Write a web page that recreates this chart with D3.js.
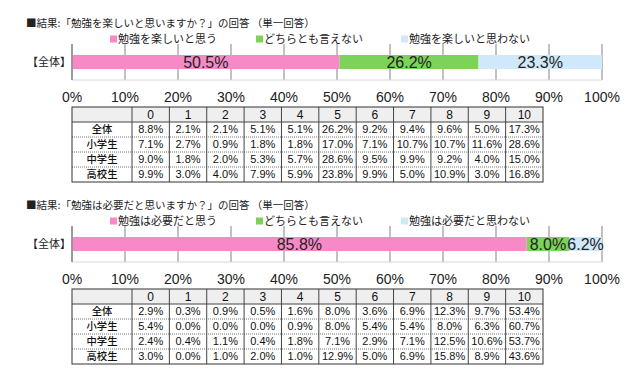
<!DOCTYPE html>
<html>
<head>
<meta charset="utf-8">
<script src="https://cdn.jsdelivr.net/npm/d3@7"></script>
<style>
body{margin:0;background:#fff;}
text{font-family:"Liberation Sans","Noto Sans CJK JP",sans-serif;}
text.jp{font-family:"Noto Sans CJK JP",sans-serif;}
</style>
</head>
<body>
<script>
// data
var titles = ["■結果:「勉強を楽しいと思いますか？」の回答 （単一回答）",
              "■結果:「勉強は必要だと思いますか？」の回答 （単一回答）"];
var legend1 = ["勉強を楽しいと思う","どちらとも言えない","勉強を楽しいと思わない"];
var legend2 = ["勉強は必要だと思う","どちらとも言えない","勉強は必要だと思わない"];
var bar1 = [50.5, 26.2, 23.3];
var bar2 = [85.8, 8.0, 6.2];
var barLabel = "【全体】";
var ticks = [0,10,20,30,40,50,60,70,80,90,100];
var scores = ["0","1","2","3","4","5","6","7","8","9","10"];
var groups = ["全体","小学生","中学生","高校生"];
var table1 = [
  [8.8,2.1,2.1,5.1,5.1,26.2,9.2,9.4,9.6,5.0,17.3],
  [7.1,2.7,0.9,1.8,1.8,17.0,7.1,10.7,10.7,11.6,28.6],
  [9.0,1.8,2.0,5.3,5.7,28.6,9.5,9.9,9.2,4.0,15.0],
  [9.9,3.0,4.0,7.9,5.9,23.8,9.9,5.0,10.9,3.0,16.8]];
var table2 = [
  [2.9,0.3,0.9,0.5,1.6,8.0,3.6,6.9,12.3,9.7,53.4],
  [5.4,0.0,0.0,0.0,0.9,8.0,5.4,5.4,8.0,6.3,60.7],
  [2.4,0.4,1.1,0.4,1.8,7.1,2.9,7.1,12.5,10.6,53.7],
  [3.0,0.0,1.0,2.0,1.0,12.9,5.0,6.9,15.8,8.9,43.6]];

var colors = ["#f78ac6","#7dd35a","#cfe8fa"];
var legendX = [110,256,401];

var svg = d3.select("body").append("svg")
    .attr("width",640).attr("height",391);

var xScale = d3.scaleLinear().domain([0,100]).range([72,602]);
var colScale = d3.scaleBand().domain(scores).range([132,543]);

function drawBlock(top, title, legend, bar, table){
  var g = svg.append("g").attr("transform","translate(0,"+top+")");

  g.append("text").attr("class","jp").attr("x",26).attr("y",23).attr("dy","0.35em")
    .style("font-size","10.5px").attr("fill","#222").text(title);

  // legend
  var lg = g.selectAll(".lg").data(legend).enter().append("g")
    .attr("transform",function(d,i){return "translate("+legendX[i]+",39.5)";});
  lg.append("rect").attr("x",0).attr("y",-4).attr("width",7).attr("height",7)
    .attr("fill",function(d,i){return colors[i];});
  lg.append("text").attr("class","jp").attr("x",8).attr("y",0).attr("dy","0.35em")
    .style("font-size","11px").attr("fill","#222").text(function(d){return d;});

  // grid
  g.selectAll(".grid").data(ticks).enter().append("line")
    .attr("x1",function(d){return xScale(d);}).attr("x2",function(d){return xScale(d);})
    .attr("y1",44).attr("y2",80)
    .attr("stroke","#a0a0a0").attr("stroke-width",1.3);
  g.append("line").attr("x1",xScale(0)).attr("x2",xScale(100))
    .attr("y1",80).attr("y2",80).attr("stroke","#d8d8d8");

  // stacked bar
  var cum = 0;
  var segs = bar.map(function(v){var s={x0:cum,v:v};cum+=v;return s;});
  g.selectAll(".seg").data(segs).enter().append("rect")
    .attr("x",function(d){return xScale(d.x0);})
    .attr("width",function(d){return xScale(d.x0+d.v)-xScale(d.x0);})
    .attr("y",55).attr("height",14)
    .attr("fill",function(d,i){return colors[i];});
  g.selectAll(".segl").data(segs).enter().append("text")
    .attr("x",function(d){return xScale(d.x0+d.v/2);})
    .attr("y",62).attr("dy","0.36em").attr("text-anchor","middle")
    .style("font-size","16px").attr("fill","#222")
    .text(function(d){return d.v.toFixed(1)+"%";});
  g.append("line").attr("x1",xScale(0)).attr("x2",xScale(0))
    .attr("y1",44).attr("y2",80).attr("stroke","#888").attr("stroke-width",1.3);
  g.append("text").attr("class","jp").attr("x",71).attr("y",62).attr("dy","0.35em")
    .attr("text-anchor","end").style("font-size","11px").attr("fill","#222").text(barLabel);

  // tick labels
  g.selectAll(".tk").data(ticks).enter().append("text")
    .attr("x",function(d){return xScale(d);}).attr("y",97).attr("dy","0.35em")
    .attr("text-anchor","middle").style("font-size","14px").attr("fill","#222")
    .text(function(d){return d+"%";});

  // table
  var rowScale = d3.scaleBand().domain(["h"].concat(groups)).range([107,182]);
  var rh = rowScale.bandwidth();
  g.append("rect").attr("x",72).attr("y",rowScale("h")).attr("width",543-72).attr("height",rh)
    .attr("fill","#efefef");
  groups.slice(1).forEach(function(r){
    g.append("line").attr("x1",72).attr("x2",543)
      .attr("y1",rowScale(r)).attr("y2",rowScale(r))
      .attr("stroke","#777").attr("stroke-dasharray","1,1");
  });
  g.append("line").attr("x1",72).attr("x2",543)
    .attr("y1",rowScale(groups[0])).attr("y2",rowScale(groups[0])).attr("stroke","#444");
  scores.forEach(function(s){
    g.append("line").attr("x1",colScale(s)).attr("x2",colScale(s))
      .attr("y1",107).attr("y2",182).attr("stroke","#444");
  });
  g.append("rect").attr("x",72).attr("y",107).attr("width",543-72).attr("height",75)
    .attr("fill","none").attr("stroke","#333");

  g.selectAll(".hd").data(scores).enter().append("text")
    .attr("x",function(d){return colScale(d)+colScale.bandwidth()/2;})
    .attr("y",rowScale("h")+rh/2).attr("dy","0.36em").attr("text-anchor","middle")
    .style("font-size","12px").attr("fill","#111").text(function(d){return d;});
  g.selectAll(".rl").data(groups).enter().append("text").attr("class","jp")
    .attr("x",102).attr("y",function(d){return rowScale(d)+rh/2;}).attr("dy","0.36em")
    .attr("text-anchor","middle").style("font-size","10.3px").style("font-weight","500")
    .attr("fill","#111")
    .text(function(d){return d;});
  table.forEach(function(row,ri){
    g.selectAll(".c"+ri).data(row).enter().append("text")
      .attr("x",function(d,i){return colScale(scores[i])+colScale.bandwidth()/2;})
      .attr("y",rowScale(groups[ri])+rh/2).attr("dy","0.36em").attr("text-anchor","middle")
      .style("font-size","11px").attr("fill","#111")
      .text(function(d){return d.toFixed(1)+"%";});
  });
}

drawBlock(0, titles[0], legend1, bar1, table1);
drawBlock(182, titles[1], legend2, bar2, table2);
</script>
</body>
</html>
